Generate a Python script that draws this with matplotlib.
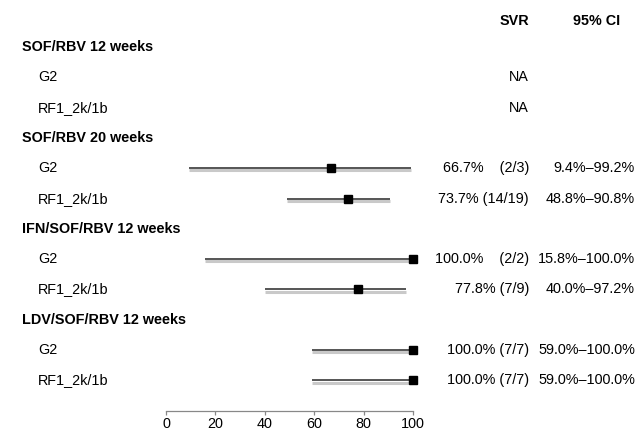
import matplotlib.pyplot as plt
import matplotlib.patheffects as pe
import matplotlib.transforms as mtransforms

plt.rcParams['font.family'] = ['Liberation Sans', 'DejaVu Sans']

# groupes (titres en gras) et sous-groupes
groups = ['SOF/RBV 12 weeks', 'SOF/RBV 20 weeks', 'IFN/SOF/RBV 12 weeks', 'LDV/SOF/RBV 12 weeks']
subgroups = ['G2', 'RF1_2k/1b']

# valeurs par groupe x sous-groupe (None = NA)
svr = [[None, None], [66.7, 73.7], [100.0, 77.8], [100.0, 100.0]]
ci_low = [[None, None], [9.4, 48.8], [15.8, 40.0], [59.0, 59.0]]
ci_high = [[None, None], [99.2, 90.8], [100.0, 97.2], [100.0, 100.0]]
svr_text = [['NA', 'NA'],
            ['66.7%    (2/3)', '73.7% (14/19)'],
            ['100.0%    (2/2)', '77.8% (7/9)'],
            ['100.0% (7/7)', '100.0% (7/7)']]
ci_text = [['', ''],
           ['9.4%\u201399.2%', '48.8%\u201390.8%'],
           ['15.8%\u2013100.0%', '40.0%\u201397.2%'],
           ['59.0%\u2013100.0%', '59.0%\u2013100.0%']]
xticks = [0, 20, 40, 60, 80, 100]

W, H = 635, 433
fig = plt.figure(figsize=(W / 100, H / 100), dpi=100)
x0, x1, ybot = 166, 413, 411
ax = fig.add_axes([x0 / W, (H - ybot) / H, (x1 - x0) / W, ybot / H])
ax.set_xlim(0, 100)
ax.set_ylim(12.01, -1.55)
for s in ['top', 'right', 'left']:
    ax.spines[s].set_visible(False)
ax.spines['bottom'].set_color('#888888')
ax.spines['bottom'].set_linewidth(0.9)
ax.set_yticks([])
ax.set_xticks(xticks)
ax.tick_params(axis='x', colors='#888888', length=3, width=0.9, labelsize=10.4,
               labelcolor='black', pad=1)

trans = mtransforms.blended_transform_factory(
    mtransforms.Affine2D().scale(1 / W, 1) + fig.transFigure, ax.transData)
fs = 10.4

ax.text(529, -0.85, 'SVR', transform=trans, ha='right', va='center', fontsize=fs,
        fontweight='bold', clip_on=False)
ax.text(597, -0.85, '95% CI', transform=trans, ha='center', va='center', fontsize=fs,
        fontweight='bold', clip_on=False)

row = 0
for g, name in enumerate(groups):
    ax.text(22, row, name, transform=trans, ha='left', va='center', fontsize=fs,
            fontweight='bold', clip_on=False)
    row += 1
    for k, sub in enumerate(subgroups):
        ax.text(38, row, sub, transform=trans, ha='left', va='center', fontsize=fs,
                clip_on=False)
        if svr[g][k] is not None:
            ax.plot([ci_low[g][k], ci_high[g][k]], [row, row], color='#555555', lw=1.4,
                    solid_capstyle='butt', clip_on=False,
                    path_effects=[pe.SimpleLineShadow(offset=(0, -1.6), shadow_color='#c4c4c4',
                                                      alpha=0.9, linewidth=2.2),
                                  pe.Normal()])
            ax.plot(svr[g][k], row, marker='s', color='black', markersize=6, clip_on=False)
        ax.text(529, row, svr_text[g][k], transform=trans, ha='right', va='center',
                fontsize=fs, clip_on=False)
        ax.text(635, row, ci_text[g][k], transform=trans, ha='right', va='center',
                fontsize=fs, clip_on=False)
        row += 1

fig.savefig('out.png', dpi=100)
